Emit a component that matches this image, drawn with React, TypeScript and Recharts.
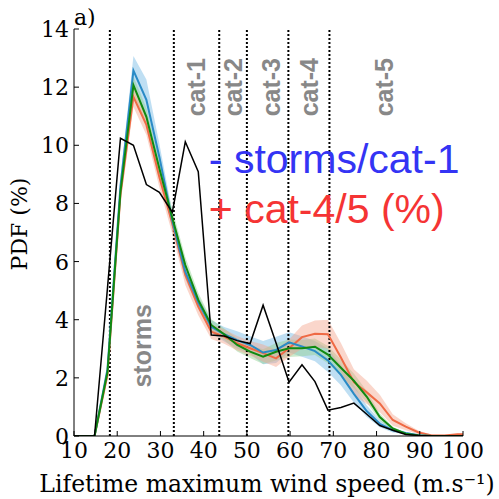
import React from 'react';
import { ComposedChart, Line, Area, XAxis, YAxis, ReferenceLine, ReferenceDot } from 'recharts';

// bin centres of the wind-speed histogram (m/s)
const windSpeed = [8.75, 11.75, 14.75, 17.75, 20.75, 23.75, 26.75, 29.75, 32.75, 35.75, 38.75, 41.75, 44.75, 47.75, 50.75, 53.75,
  56.75, 59.75, 62.75, 65.75, 68.75, 71.75, 74.75, 77.75, 80.75, 83.75, 86.75, 89.75, 92.75, 95.75, 98.75, 101.75];

const obsPdf = [0, 0, 0, 5.1, 10.24, 10.0, 8.65, 8.38, 7.7, 10.12, 9.09, 3.47, 3.44, 3.28, 3.18, 4.5,
  3.2, 1.85, 2.45, 1.87, 0.89, 0.98, 1.13, 0.75, 0.36, 0.2, 0.05, 0.02, 0, 0, 0, 0];

const bluePdf = [0, 0, 0, 2.3, 8.6, 12.57, 11.56, 9.6, 7.4, 5.65, 4.6, 3.76, 3.5, 3.3, 3.13, 2.87,
  2.96, 3.22, 3.08, 2.92, 2.6, 2.1, 1.45, 0.85, 0.42, 0.2, 0.1, 0.03, 0, 0, 0, 0];
const blueSpread = [0, 0, 0, 0.15, 0.3, 0.5, 0.7, 0.45, 0.3, 0.25, 0.22, 0.22, 0.25, 0.3, 0.3, 0.4,
  0.45, 0.35, 0.35, 0.35, 0.4, 0.35, 0.3, 0.2, 0.12, 0.08, 0.04, 0.02, 0, 0, 0, 0];

const greenPdf = [0, 0, 0, 2.2, 8.4, 12.07, 10.98, 9.2, 7.5, 5.88, 4.68, 3.82, 3.5, 3.13, 2.9, 2.73,
  2.9, 3.02, 3.02, 3.07, 2.8, 2.35, 1.9, 1.35, 0.65, 0.26, 0.08, 0.02, 0, 0, 0, 0];
const greenSpread = [0, 0, 0, 0.12, 0.25, 0.3, 0.3, 0.3, 0.3, 0.28, 0.25, 0.2, 0.2, 0.22, 0.22, 0.25,
  0.3, 0.3, 0.28, 0.28, 0.3, 0.28, 0.25, 0.2, 0.12, 0.06, 0.03, 0.01, 0, 0, 0, 0];

const orangePdf = [0, 0, 0, 2.1, 8.3, 11.67, 10.7, 8.9, 7.3, 5.54, 4.45, 3.59, 3.42, 3.19, 3.02, 2.85,
  2.67, 3.02, 3.4, 3.52, 3.5, 2.7, 1.85, 1.5, 1.12, 0.55, 0.32, 0.12, 0.02, 0.02, 0.06, 0.06];
const orangeSpread = [0, 0, 0, 0.15, 0.3, 0.35, 0.35, 0.35, 0.35, 0.35, 0.3, 0.25, 0.25, 0.25, 0.25, 0.3,
  0.3, 0.3, 0.4, 0.45, 0.5, 0.5, 0.45, 0.4, 0.3, 0.2, 0.12, 0.06, 0.03, 0.02, 0.02, 0.02];

// category thresholds (dotted lines) and labels
const thresholds = [18.3, 33.1, 43.6, 50, 59.6, 69.1];
const catNames = ['cat-1', 'cat-2', 'cat-3', 'cat-4', 'cat-5'];
const catNameX = [38.2, 46.8, 55.6, 64.4, 81.7];

const xTicks = [10, 20, 30, 40, 50, 60, 70, 80, 90, 100];
const yTicks = [0, 2, 4, 6, 8, 10, 12, 14];

const band = (v: number[], s: number[], i: number) => [Math.max(0, v[i] - s[i]), v[i] + s[i]];

const data = windSpeed.map((x, i) => ({
  x,
  obs: obsPdf[i],
  blue: bluePdf[i],
  green: greenPdf[i],
  orange: orangePdf[i],
  blueBand: band(bluePdf, blueSpread, i),
  greenBand: band(greenPdf, greenSpread, i),
  orangeBand: band(orangePdf, orangeSpread, i),
}));

const SERIF = '"DejaVu Serif", serif';
const SANS = '"Liberation Sans", Arial, sans-serif';

const BottomTick = (p: any) => (
  <g>
    <line x1={p.x} x2={p.x} y1={p.y} y2={p.y - 5} stroke="#000" />
    <text x={p.x} y={p.y + 22} textAnchor="middle" fontFamily={SERIF} fontSize={22} fill="#000">{p.payload.value}</text>
  </g>
);
const TopTick = (p: any) => <line x1={p.x} x2={p.x} y1={p.y} y2={p.y + 5} stroke="#000" />;
const LeftTick = (p: any) => (
  <g>
    <line x1={p.x} x2={p.x + 5} y1={p.y} y2={p.y} stroke="#000" />
    <text x={p.x - 5} y={p.y + 8} textAnchor="end" fontFamily={SERIF} fontSize={22} fill="#000">{p.payload.value}</text>
  </g>
);
const RightTick = (p: any) => <line x1={p.x} x2={p.x - 5} y1={p.y} y2={p.y} stroke="#000" />;

const rotated = (text: string) => (p: any) => {
  const cx = p.viewBox.x + p.viewBox.width / 2;
  const cy = p.viewBox.y + p.viewBox.height / 2;
  return (
    <text x={cx} y={cy} dy={9} transform={`rotate(-90 ${cx} ${cy})`} textAnchor="middle"
      fontFamily={SANS} fontWeight="bold" fontSize={25} fill="#888888">{text}</text>
  );
};

const note = (text: string, color: string) => (p: any) => (
  <text x={p.viewBox.x + p.viewBox.width / 2} y={p.viewBox.y + p.viewBox.height / 2}
    fontFamily={SANS} fontSize={41} fill={color}>{text}</text>
);

export default function App() {
  return (
    <div style={{ position: 'absolute', left: 0, top: 0, width: 499, height: 499, background: '#fff' }}>
      <ComposedChart width={499} height={499} data={data} margin={{ top: 29, right: 36, left: 0, bottom: 0 }}>
        <XAxis xAxisId="b" dataKey="x" type="number" domain={[10, 100]} ticks={xTicks} allowDataOverflow
          height={63} tickSize={0} tickMargin={0} tick={<BottomTick />} axisLine={{ stroke: '#000' }} />
        <XAxis xAxisId="t" orientation="top" type="number" domain={[10, 100]} ticks={xTicks} allowDataOverflow
          height={0} tickSize={0} tickMargin={0} tick={<TopTick />} axisLine={{ stroke: '#000' }} />
        <YAxis yAxisId="l" type="number" domain={[0, 14]} ticks={yTicks} allowDataOverflow
          width={74} tickSize={0} tickMargin={0} tick={<LeftTick />} axisLine={{ stroke: '#000' }} />
        <YAxis yAxisId="r" orientation="right" type="number" domain={[0, 14]} ticks={yTicks} allowDataOverflow
          width={0} tickSize={0} tickMargin={0} tick={<RightTick />} axisLine={{ stroke: '#000' }} />

        <Area xAxisId="b" yAxisId="l" type="linear" dataKey="blueBand" stroke="none" fill="#7fbfe8" fillOpacity={0.5} isAnimationActive={false} />
        <Area xAxisId="b" yAxisId="l" type="linear" dataKey="greenBand" stroke="none" fill="#8fd08f" fillOpacity={0.45} isAnimationActive={false} />
        <Area xAxisId="b" yAxisId="l" type="linear" dataKey="orangeBand" stroke="none" fill="#f5a58c" fillOpacity={0.45} isAnimationActive={false} />

        {thresholds.map((t) => (
          <ReferenceLine key={t} xAxisId="b" yAxisId="l" x={t} stroke="#000" strokeWidth={2} strokeDasharray="2 2" />
        ))}

        <Line xAxisId="b" yAxisId="l" type="linear" dataKey="orange" stroke="#ef6a45" strokeWidth={2} dot={false} isAnimationActive={false} />
        <Line xAxisId="b" yAxisId="l" type="linear" dataKey="blue" stroke="#2a8bc6" strokeWidth={2} dot={false} isAnimationActive={false} />
        <Line xAxisId="b" yAxisId="l" type="linear" dataKey="green" stroke="#108a10" strokeWidth={2} dot={false} isAnimationActive={false} />
        <Line xAxisId="b" yAxisId="l" type="linear" dataKey="obs" stroke="#000" strokeWidth={1.5} dot={false} isAnimationActive={false} />

        {catNames.map((c, i) => (
          <ReferenceDot key={c} xAxisId="b" yAxisId="l" x={catNameX[i]} y={12} r={0} stroke="none" label={{ content: rotated(c) }} />
        ))}
        <ReferenceDot xAxisId="b" yAxisId="l" x={25.7} y={3.1} r={0} stroke="none" label={{ content: rotated('storms') }} />
        <ReferenceDot xAxisId="b" yAxisId="l" x={41.2} y={9.05} r={0} stroke="none" label={{ content: note('- storms/cat-1', '#3434f4') }} />
        <ReferenceDot xAxisId="b" yAxisId="l" x={41.2} y={7.33} r={0} stroke="none" label={{ content: note('+ cat-4/5 (%)', '#f53434') }} />
      </ComposedChart>
      <svg width={499} height={499} style={{ position: 'absolute', left: 0, top: 0, pointerEvents: 'none' }}>
        <text x={74} y={25} fontFamily={SERIF} fontSize={22} fill="#000">a)</text>
        <text x={267} y={492} textAnchor="middle" fontFamily={SERIF} fontSize={23.5} fill="#000">Lifetime maximum wind speed (m.s⁻¹)</text>
        <text x={27} y={224} textAnchor="middle" transform="rotate(-90 27 224)" fontFamily={SERIF} fontSize={22} fill="#000">PDF (%)</text>
      </svg>
    </div>
  );
}
